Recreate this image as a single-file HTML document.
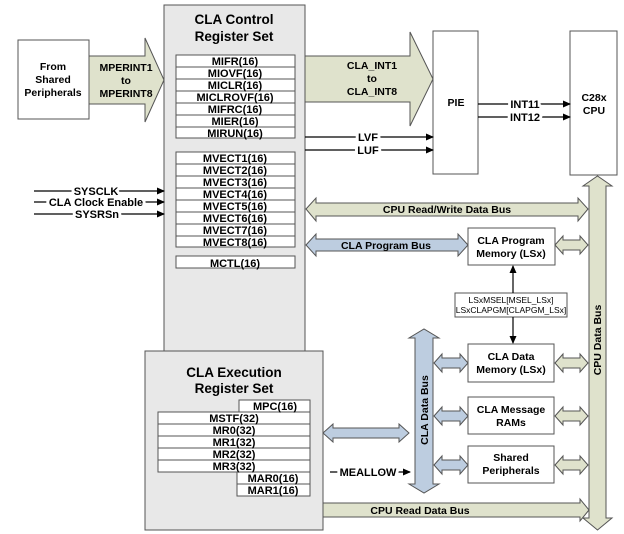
<!DOCTYPE html>
<html><head><style>body{margin:0;background:#fff}svg{display:block}text{font-family:"Liberation Sans",Arial,sans-serif;font-weight:bold;fill:#000}.lb{stroke:#fff;stroke-width:6px;paint-order:stroke;stroke-linejoin:round}</style></head><body>
<svg width="624" height="534" viewBox="0 0 624 534" xmlns="http://www.w3.org/2000/svg">
<defs><marker id="a" markerWidth="8" markerHeight="8" refX="7" refY="4" orient="auto" markerUnits="userSpaceOnUse"><path d="M0,0.5 L8,4 L0,7.5z" fill="#000"/></marker></defs>
<g stroke="#555" stroke-width="1">
<rect x="164" y="5" width="141" height="360" fill="#e8e8e8"/>
<rect x="18" y="40" width="71" height="79" fill="#fff"/>
<path d="M89,56 H145 V38 L164,80 L145,122 V104 H89z" fill="#dfe2cc"/>
<path d="M305,56 H410 V32 L433,79 L410,126 V102 H305z" fill="#dfe2cc"/>
<rect x="433" y="31" width="45" height="143" fill="#fff"/>
<rect x="570" y="31" width="47" height="144" fill="#fff"/>
<path d="M589,186 H583 L597.5,176 L612,186 H606 V518 H612 L597.5,530 L583,518 H589z" fill="#dfe2cc"/>
<path d="M306,209 L316,198 V203 H578 V198 L588,209 L578,221 V216 H316 V221z" fill="#dfe2cc"/>
<path d="M306,245 L316,234 V239 H458 V234 L468,245 L458,256 V251 H316 V256z" fill="#bdcde0"/>
<rect x="468" y="228" width="87" height="37" fill="#fff"/>
<path d="M555,245 L563,236 V240 H580 V236 L588,245 L580,254 V250 H563 V254z" fill="#dfe2cc"/>
<rect x="455" y="293" width="112" height="24" fill="#fff"/>
<path d="M415,338 H409 L424,329 L439,338 H433 V484 H439 L424,493 L409,484 H415z" fill="#bdcde0"/>
<rect x="468" y="344" width="86" height="38" fill="#fff"/>
<rect x="468" y="397" width="86" height="37" fill="#fff"/>
<rect x="468" y="446" width="86" height="37" fill="#fff"/>
<g fill="#bdcde0">
<path d="M434,363 L442,354 V358 H460 V354 L468,363 L460,372 V368 H442 V372z"/>
<path d="M434,416 L442,407 V411 H460 V407 L468,416 L460,425 V421 H442 V425z"/>
<path d="M434,465 L442,456 V460 H460 V456 L468,465 L460,474 V470 H442 V474z"/>
<path d="M323,433 L333,424 V428 H399 V424 L409,433 L399,442 V438 H333 V442z"/>
</g>
<g fill="#dfe2cc">
<path d="M555,363 L563,354 V358 H580 V354 L588,363 L580,372 V368 H563 V372z"/>
<path d="M555,416 L563,407 V411 H580 V407 L588,416 L580,425 V421 H563 V425z"/>
<path d="M555,465 L563,456 V460 H580 V456 L588,465 L580,474 V470 H563 V474z"/>
<path d="M323,503 H580 V499 L589,510 L580,521 V517 H323z"/>
</g>
<rect x="145" y="351" width="178" height="179" fill="#e8e8e8"/>
<g fill="#fff">
<rect x="176" y="55" width="119" height="83"/>
<rect x="176" y="152" width="119" height="95"/>
<rect x="176" y="256" width="119" height="12"/>
<rect x="239" y="400" width="71" height="12"/>
<rect x="158" y="412" width="152" height="60"/>
<rect x="237" y="472" width="73" height="24"/>
</g>
</g>
<g stroke="#555" stroke-width="1">
<path d="M176,67H295M176,79H295M176,91H295M176,103H295M176,115H295M176,127H295"/>
<path d="M176,164H295M176,176H295M176,188H295M176,200H295M176,212H295M176,224H295M176,236H295"/>
<path d="M158,424H310M158,436H310M158,448H310M158,460H310M237,484H310"/>
</g>
<g stroke="#000" stroke-width="1.2" fill="none" marker-end="url(#a)">
<path d="M34,191H164"/><path d="M34,202H164"/><path d="M34,214H164"/>
<path d="M305,137H433"/><path d="M305,150H433"/>
<path d="M478,104H570"/><path d="M478,117H570"/>
<path d="M330,472H410"/>
<path d="M513,293V266"/><path d="M513,317V343"/>
</g>
<g font-size="11" text-anchor="middle">
<text class="lb" x="96" y="195">SYSCLK</text>
<text class="lb" x="96" y="206">CLA Clock Enable</text>
<text class="lb" x="97" y="218">SYSRSn</text>
<text class="lb" x="368" y="141">LVF</text>
<text class="lb" x="368" y="154">LUF</text>
<text class="lb" x="525" y="108">INT11</text>
<text class="lb" x="525" y="121">INT12</text>
<text class="lb" x="368" y="476">MEALLOW</text>
</g>
<g font-size="10.5" text-anchor="middle">
<text x="53" y="70">From</text><text x="53" y="83">Shared</text><text x="53" y="96">Peripherals</text>
<text x="126" y="71">MPERINT1</text><text x="126" y="84">to</text><text x="126" y="97">MPERINT8</text>
<text x="372" y="69">CLA_INT1</text><text x="372" y="82">to</text><text x="372" y="95">CLA_INT8</text>
<text x="456" y="106">PIE</text>
<text x="594" y="101">C28x</text><text x="594" y="114">CPU</text>
<text x="447" y="213">CPU Read/Write Data Bus</text>
<text x="386" y="249">CLA Program Bus</text>
<text x="511" y="244">CLA Program</text><text x="511" y="257">Memory (LSx)</text>
<text x="511" y="360">CLA Data</text><text x="511" y="373">Memory (LSx)</text>
<text x="511" y="413">CLA Message</text><text x="511" y="426">RAMs</text>
<text x="511" y="461">Shared</text><text x="511" y="474">Peripherals</text>
<text x="420" y="514">CPU Read Data Bus</text>
<text transform="translate(428,410) rotate(-90)">CLA Data Bus</text>
<text transform="translate(601,340) rotate(-90)">CPU Data Bus</text>
</g>
<g font-size="11" text-anchor="middle">
<text x="235" y="65">MIFR(16)</text><text x="235" y="77">MIOVF(16)</text><text x="235" y="89">MICLR(16)</text><text x="235" y="101">MICLROVF(16)</text><text x="235" y="113">MIFRC(16)</text><text x="235" y="125">MIER(16)</text><text x="235" y="137">MIRUN(16)</text>
<text x="235" y="162">MVECT1(16)</text><text x="235" y="174">MVECT2(16)</text><text x="235" y="186">MVECT3(16)</text><text x="235" y="198">MVECT4(16)</text><text x="235" y="210">MVECT5(16)</text><text x="235" y="222">MVECT6(16)</text><text x="235" y="234">MVECT7(16)</text><text x="235" y="246">MVECT8(16)</text>
<text x="235" y="267">MCTL(16)</text>
<text x="275" y="410">MPC(16)</text>
<text x="234" y="422">MSTF(32)</text><text x="234" y="434">MR0(32)</text><text x="234" y="446">MR1(32)</text><text x="234" y="458">MR2(32)</text><text x="234" y="470">MR3(32)</text>
<text x="273" y="482">MAR0(16)</text><text x="273" y="494">MAR1(16)</text>
</g>
<g font-size="13.5" text-anchor="middle">
<text x="234" y="24">CLA Control</text><text x="234" y="41">Register Set</text>
<text x="234" y="377">CLA Execution</text><text x="234" y="393">Register Set</text>
</g>
<g font-size="8.5" text-anchor="middle">
<text x="511" y="303" style="font-weight:normal">LSxMSEL[MSEL_LSx]</text>
<text x="511" y="313" style="font-weight:normal">LSxCLAPGM[CLAPGM_LSx]</text>
</g>
</svg>
</body></html>
